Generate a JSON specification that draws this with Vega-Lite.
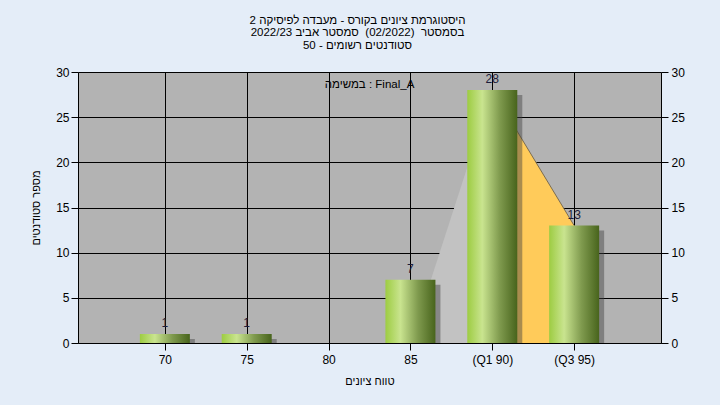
{
  "$schema": "https://vega.github.io/schema/vega-lite/v6.json",
  "width": 583,
  "height": 271,
  "autosize": {"type": "none"},
  "padding": {"left": 78, "top": 72, "right": 59, "bottom": 62},
  "background": "#e4edf8",
  "title": {
    "text": ["היסטוגרמת ציונים בקורס - מעבדה לפיסיקה 2", "בסמסטר \u00a0(02/2022)\u00a0 סמסטר אביב 2022/23", "סטודנטים רשומים - 50"],
    "font": "Liberation Sans",
    "fontSize": 11.5,
    "fontWeight": "normal",
    "color": "#000000",
    "lineHeight": 12.5,
    "offset": 15,
    "anchor": "middle",
    "frame": "bounds"
  },
  "config": {
    "view": {"stroke": null, "fill": "#b3b3b3"},
    "axis": {
      "domainColor": "#000000",
      "tickColor": "#000000",
      "gridColor": "#000000",
      "gridOpacity": 1,
      "labelColor": "#000000",
      "labelFont": "Liberation Sans",
      "labelFontSize": 12,
      "titleFont": "Liberation Sans",
      "titleFontSize": 11,
      "titleFontWeight": "normal",
      "titleColor": "#000000",
      "tickSize": 7
    }
  },
  "datasets": {
    "bars": [
      {"grade": 70, "count": 1},
      {"grade": 75, "count": 1},
      {"grade": 85, "count": 7},
      {"grade": 90, "count": 28},
      {"grade": 95, "count": 13}
    ],
    "dist": [
      {"grade": 85, "count": 0, "part": "tail"},
      {"grade": 90, "count": 28, "part": "tail"},
      {"grade": 90, "count": 28, "part": "iqr"},
      {"grade": 95, "count": 13, "part": "iqr"}
    ],
    "note": [
      {"grade": 82.5, "count": 30, "label": "במשימה : Final_A"}
    ]
  },
  "resolve": {"axis": {"y": "independent"}},
  "encoding": {
    "x": {
      "field": "grade", "type": "quantitative",
      "scale": {"domain": [65, 100], "nice": false, "zero": false},
      "axis": {
        "values": [70, 75, 80, 85, 90, 95],
        "labelExpr": "datum.value == 90 ? '(Q1 90)' : datum.value == 95 ? '(Q3 95)' : datum.label",
        "title": "טווח ציונים",
        "grid": true,
        "labelPadding": 4,
        "titlePadding": 10
      }
    }
  },
  "layer": [
    {
      "data": {"name": "dist"},
      "mark": {"type": "area", "clip": true},
      "encoding": {
        "y": {
          "field": "count", "type": "quantitative",
          "stack": null,
          "scale": {"domain": [0, 30], "nice": false},
          "axis": {
            "orient": "left",
            "values": [0, 5, 10, 15, 20, 25, 30],
            "title": "מספר סטודנטים",
            "grid": true,
            "labelPadding": 2,
            "titlePadding": 14
          }
        },
        "color": {
          "field": "part", "type": "nominal",
          "scale": {"domain": ["tail", "iqr"], "range": ["#c2c2c2", "#ffcb5a"]},
          "legend": null
        }
      }
    },
    {
      "data": {"name": "dist"},
      "transform": [{"filter": "datum.part == 'iqr'"}],
      "mark": {"type": "line", "color": "#7a6c50", "strokeWidth": 1, "clip": true},
      "encoding": {
        "y": {"field": "count", "type": "quantitative", "axis": null}
      }
    },
    {
      "data": {"name": "bars"},
      "mark": {"type": "bar", "width": 50, "xOffset": 5, "yOffset": 5, "color": "#404040", "opacity": 0.45, "clip": true},
      "encoding": {
        "y": {"field": "count", "type": "quantitative", "axis": null}
      }
    },
    {
      "data": {"name": "bars"},
      "mark": {
        "type": "bar",
        "width": 50,
        "color": {
          "gradient": "linear",
          "x1": 0, "y1": 0, "x2": 1, "y2": 0,
          "stops": [
            {"offset": 0, "color": "#9dcc42"},
            {"offset": 0.3, "color": "#c9e48f"},
            {"offset": 0.65, "color": "#7f9a4e"},
            {"offset": 1, "color": "#48641c"}
          ]
        }
      },
      "encoding": {
        "y": {
          "field": "count", "type": "quantitative",
          "axis": {
            "orient": "right",
            "values": [0, 5, 10, 15, 20, 25, 30],
            "title": null,
            "grid": false,
            "labelPadding": 3
          }
        }
      }
    },
    {
      "data": {"name": "bars"},
      "mark": {"type": "text", "baseline": "bottom", "dy": -4, "font": "Liberation Sans", "fontSize": 12, "color": "#1c1c3a"},
      "encoding": {
        "y": {"field": "count", "type": "quantitative", "axis": null},
        "text": {"field": "count", "type": "quantitative"}
      }
    },
    {
      "data": {"name": "note"},
      "mark": {"type": "text", "baseline": "top", "dy": 7, "font": "Liberation Sans", "fontSize": 11.5, "color": "#000000"},
      "encoding": {
        "y": {"field": "count", "type": "quantitative", "axis": null},
        "text": {"field": "label"}
      }
    }
  ]
}
